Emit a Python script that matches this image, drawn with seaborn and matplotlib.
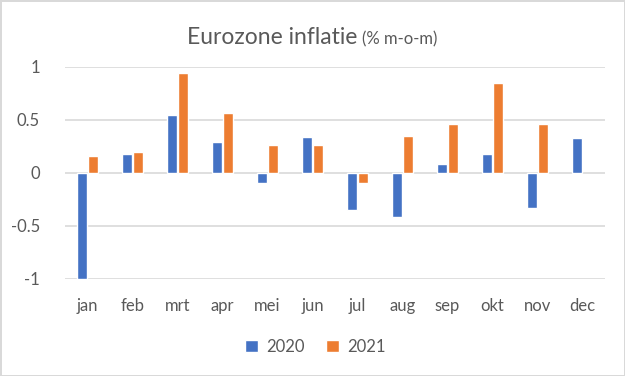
import matplotlib
matplotlib.use("Agg")
import matplotlib.pyplot as plt
import seaborn as sns
import numpy as np
import pandas as pd

months = ["jan", "feb", "mrt", "apr", "mei", "jun", "jul", "aug", "sep", "okt", "nov", "dec"]
v2020 = [-1.0, 0.18, 0.55, 0.29, -0.09, 0.34, -0.35, -0.42, 0.08, 0.18, -0.33, 0.33]
v2021 = [0.16, 0.20, 0.94, 0.57, 0.26, 0.26, -0.09, 0.35, 0.46, 0.85, 0.46, np.nan]
years = ["2020", "2021"]
yticks = [-1, -0.5, 0, 0.5, 1]
ytick_labels = ["-1", "-0.5", "0", "0.5", "1"]

df = pd.DataFrame({
    "maand": months * 2,
    "jaar": [years[0]] * 12 + [years[1]] * 12,
    "waarde": v2020 + v2021,
})

sns.set_theme(style="white")
plt.rcParams["font.family"] = ["Lato", "DejaVu Sans"]
txt = "#595959"
grid = "#d9d9d9"

fig = plt.figure(figsize=(6.25, 3.76), dpi=100)
fig.patch.set_facecolor("white")
fig.patch.set_edgecolor(grid)
fig.patch.set_linewidth(2)
ax = fig.add_axes([0.104, 0.258, 0.864, 0.564])

sns.barplot(data=df, x="maand", y="waarde", hue="jaar", order=months,
            hue_order=years, palette=["#4472C4", "#ED7D31"],
            width=0.5, gap=0.1, ax=ax, errorbar=None, saturation=1)

ax.set_ylim(-1, 1)
ax.set_xlim(-0.5, 11.5)
ax.set_yticks(yticks)
ax.set_yticklabels(ytick_labels)
ax.yaxis.grid(True, color=grid, linewidth=1.2)
ax.set_axisbelow(True)
for s in ax.spines.values():
    s.set_visible(False)
ax.tick_params(axis="both", length=0, labelsize=12, colors=txt)
ax.tick_params(axis="y", pad=18)
ax.tick_params(axis="x", pad=14)
ax.set_xlabel("")
ax.set_ylabel("")

handles, labels = ax.get_legend_handles_labels()
ax.get_legend().remove()
fig.legend(handles, labels, loc="center", bbox_to_anchor=(0.505, 0.077), ncol=2,
           frameon=False, fontsize=12, handlelength=0.75, handleheight=0.75,
           handletextpad=0.5, columnspacing=1.3, labelcolor=txt)

# Title in two sizes, centred as a whole
t1 = fig.text(0.5, 0.899, "Eurozone inflatie", ha="left", va="baseline",
              fontsize=16.5, color=txt)
t2 = fig.text(0.5, 0.899, "(% m-o-m)", ha="left", va="baseline",
              fontsize=12, color=txt)
r = fig.canvas.get_renderer()
w1 = t1.get_window_extent(r).width
w2 = t2.get_window_extent(r).width
gap = 5
W = fig.bbox.width
start = (W - (w1 + gap + w2)) / 2
base = 1 - 44 / 376
t1.set_position((start / W, base))
t2.set_position(((start + w1 + gap) / W, base))

fig.savefig("out.png", dpi=100)
